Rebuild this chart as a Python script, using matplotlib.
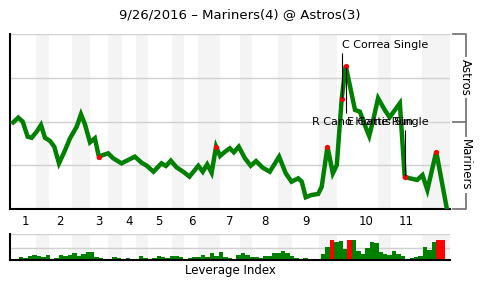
import matplotlib
matplotlib.use('Agg')
import matplotlib.pyplot as plt

# win probability line (Astros win %, per event position)
wp_x = [-1.8, -0.65, 0.34, 1.46, 2.36, 3.49, 4.46, 5.36, 6.49, 7.45, 8.51, 9.64,
        11.0, 12.5, 13.47, 14.36, 15.5, 16.6, 17.5, 18.5, 19.6, 20.7, 22.6, 24.1,
        25.6, 27.1, 28.3, 29.8, 31.6, 32.6, 33.7, 35.0, 36.5, 37.9, 39.9, 40.9,
        41.9, 42.9, 43.9, 44.8, 45.9, 47.0, 47.9, 49.0, 50.4, 51.7, 52.9, 54.4,
        56.0, 58.1, 59.6, 60.9, 62.4, 63.2, 64.1, 65.4, 66.9, 67.7, 69.0, 70.2,
        71.1, 72.2, 73.1, 75.2, 76.3, 77.4, 78.4, 79.3, 80.4, 81.9, 83.0, 84.2,
        85.3, 86.4, 87.6, 89.2, 90.4, 91.5, 93.5, 95.9]
wp_y = [49.5, 52.2, 49.9, 41.3, 40.7, 44.2, 48.0, 40.7, 38.9, 35.6, 26.1, 32.2,
        40.4, 47.0, 54.1, 48.4, 38.1, 40.4, 29.9, 30.9, 31.8, 29.0, 26.1, 28.0,
        29.9, 26.5, 24.7, 21.3, 26.1, 24.6, 27.6, 23.8, 21.3, 18.5, 24.7, 21.3,
        25.5, 20.7, 35.6, 30.3, 32.7, 34.7, 32.4, 35.6, 29.0, 24.7, 27.4, 23.6,
        21.3, 29.9, 20.4, 15.6, 17.5, 15.6, 6.7, 8.0, 8.6, 12.7, 35.6, 20.4,
        25.1, 62.9, 81.9, 56.6, 55.6, 48.0, 41.7, 50.9, 63.3, 56.6, 52.4, 56.6,
        60.4, 18.5, 17.5, 16.6, 19.4, 10.9, 32.7, 0.0]

# key plays (red dots)
key_x = [17.5, 43.9, 69.0, 72.2, 73.1, 86.4, 93.5]
key_y = [29.9, 35.6, 35.6, 62.9, 81.9, 18.5, 32.7]

# annotations: label, text x, text y, line x, line y0, line y1
ann_labels = ["C Correa Single", "R Cano Home Run", "E Gattis Single"]
ann_tx = [72.2, 65.5, 73.4]
ann_ty = [94.0, 49.7, 49.7]
link_x = [72.2, 73.1, 86.4]
link_y0 = [63.5, 81.0, 19.0]
link_y1 = [89.1, 54.9, 45.1]

# leverage index per plate appearance
lev = [0.25, 0.17, 0.36, 0.44, 0.36, 0.31, 0.44, 0.08, 0.22, 0.44,
       0.39, 0.44, 0.61, 0.36, 0.56, 0.69, 0.69, 0.28, 0.19, 0.08,
       0.03, 0.28, 0.19, 0.11, 0.19, 0.11, 0.03, 0.36, 0.22, 0.11,
       0.22, 0.36, 0.28, 0.22, 0.36, 0.36, 0.28, 0.14, 0.22, 0.28,
       0.28, 0.44, 0.31, 0.61, 0.39, 0.69, 0.25, 0.19, 0.08, 0.44,
       0.61, 0.44, 0.28, 0.28, 0.22, 0.36, 0.36, 0.61, 0.61, 0.78,
       0.61, 0.36, 0.22, 0.11, 0.19, 0.11, 0.11, 0.11, 0.56, 1.11,
       1.69, 1.56, 1.61, 0.98, 1.69, 1.69, 0.78, 0.56, 1.06, 1.53,
       1.48, 0.69, 0.56, 0.44, 0.78, 0.50, 0.36, 0.03, 0.19, 0.28,
       0.36, 1.11, 0.86, 1.53, 1.69, 1.69]
lev_red = [70, 74, 94, 95]

innings = ['1', '2', '3', '4', '5', '6', '7', '8', '9', '10', '11']
inning_pos = [0.86, 8.8, 17.6, 24.3, 31.1, 38.4, 47.0, 54.9, 64.1, 77.8, 86.8]
band_start = [3.3, 11.5, 19.6, 25.8, 33.9, 39.9, 49.3, 57.9, 67.1, 80.3, 90.3]
band_end = [6.3, 15.5, 22.6, 28.6, 36.7, 44.8, 51.9, 61.1, 71.1, 83.4, 96.6]

GREEN = '#008000'
XMIN, XMAX = -2.52, 96.6

fig = plt.figure(figsize=(4.8, 3.0), dpi=100)
ax = fig.add_axes([10/480, 1-209/300, 440/480, 175/300])
ax2 = fig.add_axes([10/480, 1-260.3/300, 440/480, 26/300])

for a in (ax, ax2):
    for s, e in zip(band_start, band_end):
        a.axvspan(s, e, color='#f4f4f4', lw=0, zorder=0)
    a.set_xlim(XMIN, XMAX)
    for sp in ('top', 'right'):
        a.spines[sp].set_visible(False)
    for sp in ('left', 'bottom'):
        a.spines[sp].set_color('black')
        a.spines[sp].set_linewidth(1.5)
    a.tick_params(length=0)
    a.set_yticklabels([])

ax.set_ylim(0, 100)
for g in (25, 50, 75, 100):
    ax.axhline(g, color='#d0d0d0', lw=1, zorder=1)
ax.plot(wp_x, wp_y, color=GREEN, lw=3.2, solid_joinstyle='miter', zorder=3)
ax.plot(key_x, key_y, 'o', color='red', ms=3.8, mec='none', zorder=4)
ax.vlines(link_x, link_y0, link_y1, color='black', lw=0.8, zorder=5)
for lab, tx, ty in zip(ann_labels, ann_tx, ann_ty):
    ax.text(tx, ty, lab, ha='left', va='center', fontsize=8, zorder=6)
ax.set_yticks([])
ax.set_xticks(inning_pos)
ax.set_xticklabels(innings, fontsize=8.5)
ax.tick_params(axis='x', pad=4)

# right-hand bracket
bx = 1.0357
br = dict(color='#777777', lw=1.3, transform=ax.transAxes, clip_on=False)
ax.plot([1.0068, bx, bx, 1.0068], [1.0, 1.0, 0.497, 0.497], **br)
ax.plot([bx, bx, 1.0068], [0.497, 0.0, 0.0], **br)
ax.text(bx, 0.75, 'Astros', rotation=270, ha='center', va='center', fontsize=8.5,
        transform=ax.transAxes, bbox=dict(fc='white', ec='none', pad=1.5))
ax.text(bx, 0.25, 'Mariners', rotation=270, ha='center', va='center', fontsize=8.5,
        transform=ax.transAxes, bbox=dict(fc='white', ec='none', pad=1.5))

ax2.set_ylim(0, 2.2)
for g in (1.0, 2.2):
    ax2.axhline(g, color='#d0d0d0', lw=1, zorder=1)
colors = ['red' if i in lev_red else GREEN for i in range(len(lev))]
ax2.bar(range(len(lev)), lev, width=1.0, color=colors, lw=0, zorder=2)
ax2.set_xticks([])
ax2.set_yticks([])
ax2.set_xlabel('Leverage Index', fontsize=8.5, labelpad=3)

fig.suptitle('9/26/2016 – Mariners(4) @ Astros(3)', y=1-15/300, va='center', fontsize=9.5)

fig.savefig('out.png', dpi=100)
